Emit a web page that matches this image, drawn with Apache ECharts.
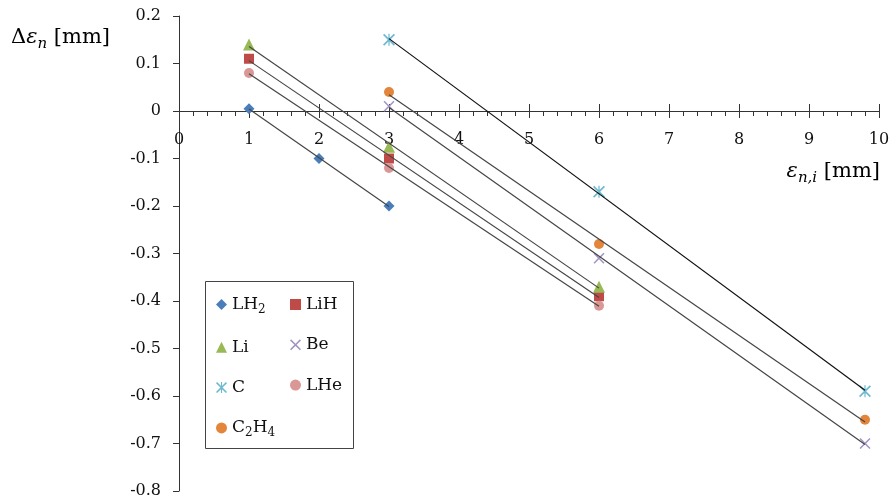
<!DOCTYPE html>
<html>
<head>
<meta charset="utf-8">
<script src="https://cdn.jsdelivr.net/npm/echarts@6/dist/echarts.min.js"></script>
<style>
  html, body { margin: 0; padding: 0; background: #fff; }
  #chart { width: 896px; height: 504px; }
</style>
</head>
<body>
<div id="chart"></div>
<script>
// Measured shift of each sample versus initial position (mm)
const xLH2 = [1, 2, 3];
const yLH2 = [0.005, -0.10, -0.20];
const xLiH = [1, 3, 6];
const yLiH = [0.11, -0.10, -0.39];
const xLi = [1, 3, 6];
const yLi = [0.14, -0.075, -0.37];
const xBe = [3, 6, 9.8];
const yBe = [0.01, -0.31, -0.70];
const xC = [3, 6, 9.8];
const yC = [0.15, -0.17, -0.59];
const xLHe = [1, 3, 6];
const yLHe = [0.08, -0.12, -0.41];
const xC2H4 = [3, 6, 9.8];
const yC2H4 = [0.04, -0.28, -0.65];

const xTickMin = 0, xTickMax = 10, xTickStep = 1;
const yTickMin = -0.8, yTickMax = 0.2, yTickStep = 0.1;
const xAxisAt = 0; // the horizontal axis crosses the vertical one at this value

const FONT = 'DejaVu Serif';
const AXIS = '#333';

const xMark = 'path://M0,1L1,0L5,4L9,0L10,1L6,5L10,9L9,10L5,6L1,10L0,9L4,5Z';
const starMark = 'path://M0,1L1,0L5,4L9,0L10,1L6,5L10,9L9,10L5,6L1,10L0,9L4,5Z M4.5,0L5.5,0L5.5,10L4.5,10Z';

const samples = [
  { name: 'LH2',  x: xLH2,  y: yLH2,  color: '#4a7ebb', symbol: 'diamond',  size: 11, line: '#454545' },
  { name: 'LiH',  x: xLiH,  y: yLiH,  color: '#be4b48', symbol: 'rect',     size: 10, line: '#454545' },
  { name: 'Li',   x: xLi,   y: yLi,   color: '#98b954', symbol: 'triangle', size: 12, line: '#454545' },
  { name: 'Be',   x: xBe,   y: yBe,   color: '#a294c4', symbol: xMark,      size: 11, line: '#454545' },
  { name: 'C',    x: xC,    y: yC,    color: '#6db9d2', symbol: starMark,   size: 12, line: '#111111' },
  { name: 'LHe',  x: xLHe,  y: yLHe,  color: '#d99795', symbol: 'circle',   size: 10, line: '#454545' },
  { name: 'C2H4', x: xC2H4, y: yC2H4, color: '#e3863b', symbol: 'circle',   size: 10, line: '#454545' }
];

// least-squares trend line over the sample's x range
function trend(xs, ys) {
  const n = xs.length;
  const mx = xs.reduce((a, b) => a + b, 0) / n;
  const my = ys.reduce((a, b) => a + b, 0) / n;
  let sxy = 0, sxx = 0;
  for (let i = 0; i < n; i++) {
    sxy += (xs[i] - mx) * (ys[i] - my);
    sxx += (xs[i] - mx) * (xs[i] - mx);
  }
  const k = sxy / sxx, b = my - k * mx;
  const x0 = Math.min(...xs), x1 = Math.max(...xs);
  return [[x0, k * x0 + b], [x1, k * x1 + b]];
}

const legendLabels = {
  LH2: '{t|LH}{s|2}', LiH: '{t|LiH}', Li: '{t|Li}', Be: '{t|Be}',
  C: '{t|C}', LHe: '{t|LHe}', C2H4: '{t|C}{s|2}{t|H}{s|4}'
};

const series = [];
samples.forEach(s => {
  series.push({
    name: s.name,
    type: 'scatter',
    data: s.x.map((v, i) => [v, s.y[i]]),
    symbol: s.symbol,
    symbolSize: s.size,
    itemStyle: { color: s.color, opacity: 1 },
    z: 2
  });
});
samples.forEach(s => {
  series.push({
    name: s.name + ' fit',
    type: 'line',
    data: trend(s.x, s.y),
    showSymbol: false,
    symbol: 'none',
    silent: true,
    lineStyle: { color: s.line, width: 1.2 },
    z: 3
  });
});

const legendText = {
  fontFamily: FONT,
  rich: {
    t: { fontFamily: FONT, fontSize: 17, lineHeight: 22, color: '#111' },
    s: { fontFamily: FONT, fontSize: 12, lineHeight: 12, verticalAlign: 'bottom', color: '#111' }
  }
};
const legendCommon = {
  orient: 'vertical',
  itemWidth: 11,
  itemHeight: 11,
  itemGap: 23.3,
  padding: 0,
  formatter: n => legendLabels[n],
  textStyle: legendText
};

const titleRich = {
  d: { fontFamily: FONT, fontSize: 21, lineHeight: 28, color: '#111' },
  e: { fontFamily: FONT, fontStyle: 'italic', fontSize: 21, lineHeight: 28, color: '#111' },
  s: { fontFamily: FONT, fontStyle: 'italic', fontSize: 15, lineHeight: 15, verticalAlign: 'bottom', color: '#111' }
};

const chart = echarts.init(document.getElementById('chart'), null, { renderer: 'canvas' });
chart.setOption({
  backgroundColor: '#fff',
  animation: false,
  grid: { left: 179, right: 17, top: 16, bottom: 13, containLabel: false, outerBoundsMode: 'none' },
  xAxis: [
    {
      type: 'value', min: xTickMin, max: xTickMax, interval: xTickStep, position: 'bottom', offset: 0,
      axisLine: { onZero: false, lineStyle: { color: AXIS, width: 1 } },
      axisTick: { length: 7, lineStyle: { color: AXIS } },
      minorTick: { show: true, splitNumber: 5, length: 5, lineStyle: { color: AXIS } },
      axisLabel: { margin: 21, fontFamily: FONT, fontSize: 16, color: '#111' },
      splitLine: { show: false }
    },
    {
      // upper half of the major ticks, crossing the axis line
      type: 'value', min: xTickMin, max: xTickMax, interval: xTickStep, position: 'bottom', offset: 0,
      axisLine: { show: false, onZero: false },
      axisTick: { inside: true, length: 7, lineStyle: { color: AXIS } },
      axisLabel: { show: false },
      splitLine: { show: false }
    }
  ],
  yAxis: {
    type: 'value', min: yTickMin, max: yTickMax, interval: yTickStep,
    axisLine: { show: true, onZero: false, lineStyle: { color: AXIS, width: 1 } },
    axisTick: { show: true, length: 6, lineStyle: { color: AXIS } },
    axisLabel: {
      margin: 18, fontFamily: FONT, fontSize: 16, color: '#111',
      formatter: v => (Math.abs(v) < 1e-9 ? '0' : v.toFixed(1))
    },
    splitLine: { show: false }
  },
  legend: [
    Object.assign({ left: 216, top: 296, data: ['LH2', 'Li', 'C', 'C2H4'] }, legendCommon),
    Object.assign({ left: 290, top: 296, data: ['LiH', 'Be', 'LHe'] }, legendCommon)
  ],
  graphic: [
    {
      type: 'rect', left: 205, top: 281, z: -1,
      shape: { width: 148, height: 167 },
      style: { fill: '#fff', stroke: '#444', lineWidth: 1 }
    },
    {
      type: 'text', left: 11, top: 27,
      style: { text: '{d|Δ}{e|ε}{s|n}{d| [mm]}', rich: titleRich }
    },
    {
      type: 'text', right: 16, top: 161,
      style: { text: '{e|ε}{s|n,i}{d| [mm]}', rich: titleRich }
    }
  ],
  series: series
});

// lift the horizontal axis from the bottom of the grid up to y = xAxisAt
const yBottomPx = chart.convertToPixel({ yAxisIndex: 0 }, yTickMin);
const yCrossPx = chart.convertToPixel({ yAxisIndex: 0 }, xAxisAt);
const lift = -(yBottomPx - yCrossPx);
chart.setOption({ xAxis: [{ offset: lift }, { offset: lift }] });
</script>
</body>
</html>
